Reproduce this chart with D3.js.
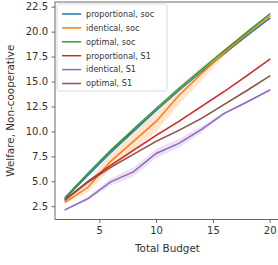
<!DOCTYPE html>
<html><head><meta charset="utf-8">
<script src="https://cdn.jsdelivr.net/npm/d3@7"></script>
<style>html,body{margin:0;padding:0;background:#fff;overflow:hidden}svg{display:block;font-family:"DejaVu Sans",sans-serif}</style>
</head><body><svg id="c" width="278" height="265"></svg>
<script>
const budgets = [2,4,6,8,10,12,14,16,18,20];
const seriesNames = ["proportional, soc","identical, soc","optimal, soc","proportional, S1","identical, S1","optimal, S1"];
const propSoc  = [3.3,5.6,7.9,10.0,12.1,14.1,16.0,17.8,19.6,21.33];
const identSoc = [2.9,4.4,7.0,9.0,11.0,13.6,15.8,17.9,19.8,21.57];
const optSoc   = [3.4,5.8,8.1,10.2,12.3,14.3,16.2,18.1,19.95,21.77];
const propS1   = [3.2,5.0,6.6,8.1,9.6,11.0,12.5,14.0,15.6,17.22];
const identS1  = [2.15,3.27,4.94,5.94,7.79,8.8,10.2,11.8,12.95,14.14];
const optS1    = [3.1,4.9,6.4,7.7,9.0,10.1,11.3,12.7,14.1,15.55];
const ciPropSoc  = [0.05,0.1,0.1,0.1,0.1,0.1,0.1,0.1,0.1,0.05];
const ciIdentSoc = [0.1,0.45,0.8,1.0,1.0,0.9,0.7,0.35,0.15,0.1];
const ciOptSoc   = [0.05,0.1,0.1,0.1,0.1,0.1,0.1,0.1,0.1,0.05];
const ciPropS1   = [0.05,0.1,0.1,0.1,0.1,0.1,0.1,0.1,0.1,0.05];
const ciIdentS1  = [0.05,0.2,0.35,0.45,0.45,0.45,0.3,0.15,0.1,0.05];
const ciOptS1    = [0.05,0.1,0.1,0.1,0.1,0.1,0.1,0.1,0.1,0.05];
const xTicks = [5,10,15,20];
const yTicks = [2.5,5.0,7.5,10.0,12.5,15.0,17.5,20.0,22.5];
const colors = ["#1f77b4","#ff7f0e","#2ca02c","#d62728","#9467bd","#8c564b"];
const values = [propSoc,identSoc,optSoc,propS1,identS1,optS1];
const cis = [ciPropSoc,ciIdentSoc,ciOptSoc,ciPropS1,ciIdentS1,ciOptS1];

const svg = d3.select("#c");
const L=55, R=279.9, T=2, B=219.5;
const x = d3.scaleLinear().domain([1.1,20.9]).range([L,R]);
const y = d3.scaleLinear().domain([1.17,22.97]).range([B,T]);

svg.append("clipPath").attr("id","clip").append("rect").attr("x",L).attr("y",T).attr("width",R-L).attr("height",B-T);
const plot = svg.append("g").attr("clip-path","url(#clip)");

values.forEach((vals,i)=>{
  const pts = budgets.map((b,j)=>({b, v:vals[j], c:cis[i][j]}));
  const area = d3.area().x(d=>x(d.b)).y0(d=>y(d.v-d.c)).y1(d=>y(d.v+d.c));
  plot.append("path").attr("d",area(pts)).attr("fill",colors[i]).attr("fill-opacity",0.2).attr("stroke","none");
  const line = d3.line().x(d=>x(d.b)).y(d=>y(d.v));
  plot.append("path").attr("d",line(pts)).attr("fill","none").attr("stroke",colors[i]).attr("stroke-width",1.5).attr("stroke-linecap","square");
});

const ax = svg.append("g").attr("transform",`translate(0,${B})`)
  .call(d3.axisBottom(x).tickValues(xTicks).tickFormat(d3.format("d")).tickSize(3.5).tickPadding(3.5));
const ay = svg.append("g").attr("transform",`translate(${L},0)`)
  .call(d3.axisLeft(y).tickValues(yTicks).tickFormat(d3.format(".1f")).tickSize(3.5).tickPadding(3.5));
[ax,ay].forEach(g=>{
  g.select(".domain").remove();
  g.selectAll("line").attr("stroke","#444").attr("stroke-width",0.8);
  g.selectAll("text").attr("fill","#333").attr("font-size",10).attr("font-family","DejaVu Sans");
});
svg.append("rect").attr("x",L).attr("y",T).attr("width",R-L).attr("height",B-T)
  .attr("fill","none").attr("stroke","#444").attr("stroke-width",0.8);

svg.append("text").attr("x",(L+R)/2).attr("y",252).attr("text-anchor","middle")
  .attr("font-size",10.4).attr("fill","#333").text("Total Budget");
svg.append("text").attr("transform",`translate(13.5,${(T+B)/2}) rotate(-90)`).attr("text-anchor","middle")
  .attr("font-size",10.4).attr("fill","#333").text("Welfare, Non-cooperative");

const lg = svg.append("g");
lg.append("rect").attr("x",57).attr("y",4).attr("width",110).attr("height",87).attr("rx",2.5)
  .attr("fill","#fff").attr("fill-opacity",0.8).attr("stroke","#d0d0d0").attr("stroke-width",0.8);
seriesNames.forEach((n,i)=>{
  const cy = 14 + i*13.9;
  lg.append("line").attr("x1",62).attr("x2",81).attr("y1",cy).attr("y2",cy).attr("stroke",colors[i]).attr("stroke-width",1.5);
  lg.append("text").attr("x",86).attr("y",cy).attr("dy","0.35em").attr("font-size",8.1).attr("fill","#333").text(n);
});
</script></body></html>
